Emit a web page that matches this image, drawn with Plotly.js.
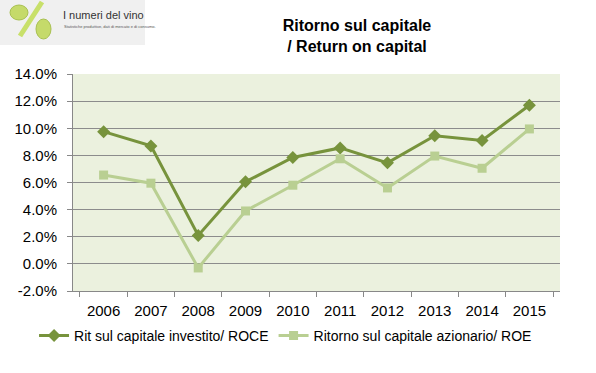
<!DOCTYPE html>
<html><head><meta charset="utf-8">
<script src="https://cdn.plot.ly/plotly-3.0.1.min.js"></script>
<style>body{margin:0;padding:0;background:#fff}#c{width:596px;height:373px}</style>
</head><body><div id="c"></div>
<script>
const years = ['2006','2007','2008','2009','2010','2011','2012','2013','2014','2015'];
const roce = [9.75, 8.7, 2.1, 6.05, 7.85, 8.55, 7.45, 9.45, 9.1, 11.7];
const roe = [6.55, 5.95, -0.3, 3.9, 5.8, 7.75, 5.6, 7.95, 7.05, 9.95];
const yTicks = [-2,0,2,4,6,8,10,12,14];
const yTickText = yTicks.map(v => v.toFixed(1) + '%');
const nameRoce = 'Rit sul capitale investito/ ROCE';
const nameRoe = 'Ritorno sul capitale azionario/ ROE';

const font = 'Liberation Sans, Arial, sans-serif';
const traces = [
  {x: years, y: roce, name: nameRoce, type: 'scatter', mode: 'lines+markers',
   line: {color: '#77933C', width: 3}, marker: {symbol: 'diamond', size: 10, color: '#77933C'}},
  {x: years, y: roe, name: nameRoe, type: 'scatter', mode: 'lines+markers',
   line: {color: '#B9CF92', width: 3}, marker: {symbol: 'square', size: 9, color: '#B9CF92'}}
];
const layout = {
  width: 596, height: 373,
  margin: {l: 73, r: 36, t: 74, b: 82},
  paper_bgcolor: '#ffffff', plot_bgcolor: '#EBF1DE',
  font: {family: font, size: 13, color: '#000'},
  title: {text: '<b>Ritorno sul capitale<br>/ Return on capital</b>', x: 357/596, xanchor: 'center', y: 1 - 31/373, yanchor: 'middle', font: {size: 16, family: font}},
  xaxis: {type: 'category', showline: true, linecolor: '#888', linewidth: 1, showgrid: false,
          ticks: 'outside', tickson: 'boundaries', ticklen: 5, tickcolor: '#888', tickfont: {size: 15},
          ticklabelstandoff: 6, fixedrange: true},
  yaxis: {range: [-2, 14], tickvals: yTicks, ticktext: yTickText, showgrid: true, gridcolor: '#8c8c8c', gridwidth: 1,
          showline: true, linecolor: '#888', ticks: 'outside', ticklen: 5, tickcolor: '#888', zeroline: false,
          tickfont: {size: 15}, ticklabelstandoff: 7, fixedrange: true},
  showlegend: true,
  legend: {orientation: 'h', x: -0.08, xanchor: 'left', y: -0.207, yanchor: 'middle', font: {size: 14}, itemwidth: 30,
           traceorder: 'normal'},
  shapes: [
    {type: 'rect', xref: 'paper', yref: 'paper', x0: -73/487, x1: 145/487 - 73/487, y0: 1 + (74-45)/217, y1: 1 + 74/217,
     fillcolor: '#f0f0f0', line: {width: 0}, layer: 'below'},
    {type: 'line', xref: 'paper', yref: 'paper', x0: (20-73)/487, x1: (42-73)/487, y0: 1 + (74-36)/217, y1: 1 + (74-2)/217,
     line: {color: '#C8E06A', width: 5}},
    {type: 'circle', xref: 'paper', yref: 'paper', x0: (10-73)/487, x1: (28-73)/487, y0: 1 + (74-20)/217, y1: 1 + (74-5)/217,
     fillcolor: '#C5DA6A', line: {color: '#A8C050', width: 1}},
    {type: 'circle', xref: 'paper', yref: 'paper', x0: (36-73)/487, x1: (51-73)/487, y0: 1 + (74-39)/217, y1: 1 + (74-19)/217,
     fillcolor: '#C5DA6A', line: {color: '#A8C050', width: 1}}
  ],
  annotations: [
    {text: 'I numeri del vino', xref: 'paper', yref: 'paper', x: (61-73)/487, y: 1 + (74-15)/217, xanchor: 'left', yanchor: 'middle',
     showarrow: false, font: {size: 11, color: '#333', family: font}},
    {text: 'Statistiche produttive, dati di mercato e di consumo.', xref: 'paper', yref: 'paper', x: (62-73)/487, y: 1 + (74-26)/217,
     xanchor: 'left', yanchor: 'middle', showarrow: false, font: {size: 4, color: '#555', family: font}}
  ]
};
Plotly.newPlot('c', traces, layout, {displayModeBar: false, staticPlot: true});
</script></body></html>
